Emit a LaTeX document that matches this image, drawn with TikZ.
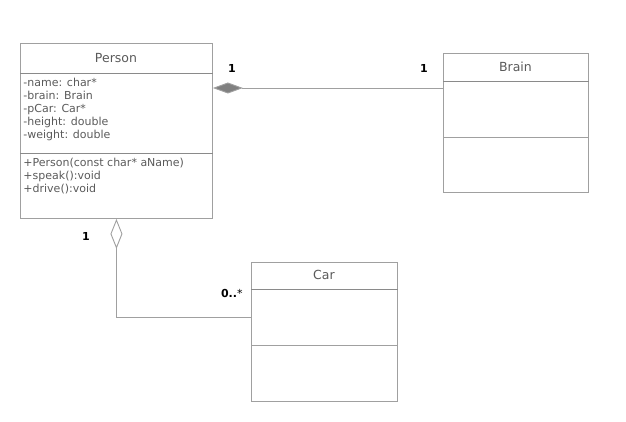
\documentclass[tikz,border=0pt]{standalone}
\usepackage{fontspec}
\setmainfont{DejaVu Sans}
\usetikzlibrary{arrows.meta}

\definecolor{boxgray}{HTML}{A0A0A0}
\definecolor{sepgray}{HTML}{8A8A8A}
\definecolor{textgray}{HTML}{5A5A5A}
\definecolor{diagray}{HTML}{808080}

\tikzset{every path/.style={line width=0.9pt}}
\tikzset{
  classbox/.style={draw=boxgray,inner sep=0pt,anchor=north west},
  classname/.style={text=textgray,font=\fontsize{12.5}{14}\selectfont},
  members/.style={text=textgray,anchor=north west,align=left,inner sep=0pt,
    font=\fontsize{11}{13}\selectfont},
  mult/.style={font=\fontsize{11}{13}\selectfont\bfseries},
  assoc/.style={draw=boxgray}
}

\begin{document}
\begin{tikzpicture}[x=1pt,y=-1pt]
    \useasboundingbox (0,0) rectangle (626,422);
    % classes
    \node[classbox,minimum width=192pt,minimum height=175pt] (person) at (20,43) {};
    \node[classbox,minimum width=145pt,minimum height=139pt] (brain) at (443,53) {};
    \node[classbox,minimum width=146pt,minimum height=139pt] (car) at (251,262) {};
    \draw[sepgray] ([yshift=-30pt]person.north west) -- ([yshift=-30pt]person.north east);
    \draw[sepgray] ([yshift=-110pt]person.north west) -- ([yshift=-110pt]person.north east);
    \draw[sepgray] ([yshift=-28pt]brain.north west) -- ([yshift=-28pt]brain.north east);
    \draw[boxgray] ([yshift=-84pt]brain.north west) -- ([yshift=-84pt]brain.north east);
    \draw[sepgray] ([yshift=-27pt]car.north west) -- ([yshift=-27pt]car.north east);
    \draw[boxgray] ([yshift=-83pt]car.north west) -- ([yshift=-83pt]car.north east);
    \node[classname] (pname) at (116,58) {Person};
    \node[classname] (bname) at (515.5,67) {Brain};
    \node[classname] (cname) at (324,275) {Car};
    \node[members] (pattr) at (23,78) {-name: char*\\-brain: Brain\\-pCar: Car*\\-height: double\\-weight: double};
    \node[members] (pops) at (23,158) {+Person(const char* aName)\\+speak():void\\+drive():void};
    % relations
    \draw[assoc,{Diamond[fill=diagray,length=30pt,width=11pt]}-]
    ([yshift=-45pt]person.north east) -- ([yshift=-35pt]brain.north west);
    \draw[assoc,{Diamond[open,fill=white,length=30pt,width=12pt]}-]
    (person.south) |- ([yshift=-55pt]car.north west);
    \node[mult] (m1) at (232,68) {1};
    \node[mult] (m2) at (424,68) {1};
    \node[mult] (m3) at (86,236) {1};
    \node[mult,anchor=east,inner sep=0pt] (m4) at (243,293) {0..\mdseries*};
  \end{tikzpicture}
\end{document}
